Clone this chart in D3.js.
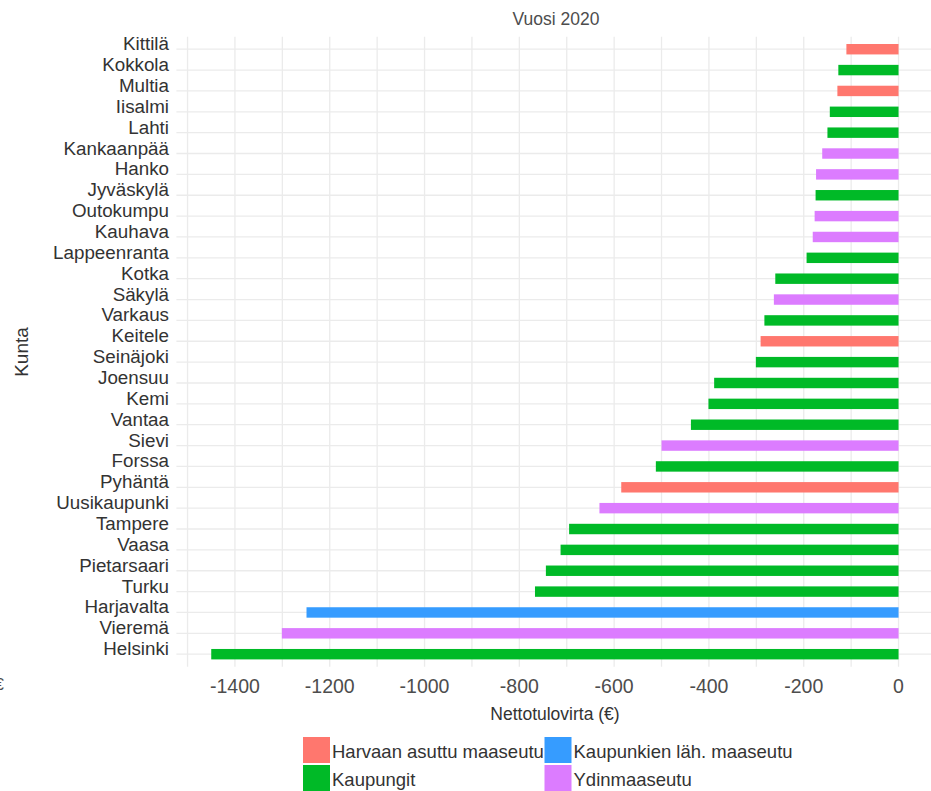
<!DOCTYPE html>
<html>
<head>
<meta charset="utf-8">
<script src="https://cdn.jsdelivr.net/npm/d3@7"></script>
<style>
  body { margin: 0; background: #fff; }
  text { font-family: "Liberation Sans", Arial, sans-serif; }
</style>
</head>
<body>
<div id="chart"></div>
<script>
// Kunnat ylhäältä alas
var kunnat = ["Kittilä", "Kokkola", "Multia", "Iisalmi", "Lahti", "Kankaanpää", "Hanko",
    "Jyväskylä", "Outokumpu", "Kauhava", "Lappeenranta", "Kotka", "Säkylä", "Varkaus",
    "Keitele", "Seinäjoki", "Joensuu", "Kemi", "Vantaa", "Sievi", "Forssa", "Pyhäntä",
    "Uusikaupunki", "Tampere", "Vaasa", "Pietarsaari", "Turku", "Harjavalta", "Vieremä", "Helsinki"];

// Nettotulovirta (€)
var arvot = [-110, -127, -129, -145, -150, -161, -174,
    -175, -177, -181, -194, -260, -263, -283,
    -291, -301, -389, -401, -438, -500, -512, -585,
    -631, -695, -713, -744, -767, -1249, -1301, -1450];

var ryhmat = ["Harvaan asuttu maaseutu", "Kaupungit", "Harvaan asuttu maaseutu", "Kaupungit",
    "Kaupungit", "Ydinmaaseutu", "Ydinmaaseutu", "Kaupungit", "Ydinmaaseutu", "Ydinmaaseutu",
    "Kaupungit", "Kaupungit", "Ydinmaaseutu", "Kaupungit", "Harvaan asuttu maaseutu",
    "Kaupungit", "Kaupungit", "Kaupungit", "Kaupungit", "Ydinmaaseutu", "Kaupungit",
    "Harvaan asuttu maaseutu", "Ydinmaaseutu", "Kaupungit", "Kaupungit", "Kaupungit",
    "Kaupungit", "Kaupunkien läh. maaseutu", "Ydinmaaseutu", "Kaupungit"];

var ryhmaNimet = ["Harvaan asuttu maaseutu", "Kaupunkien läh. maaseutu", "Kaupungit", "Ydinmaaseutu"];

var majorTicks = [-1400, -1200, -1000, -800, -600, -400, -200, 0];
var minorTicks = [-1500, -1300, -1100, -900, -700, -500, -300, -100];

var data = kunnat.map(function(k, i) {
    return {kunta: k, arvo: arvot[i], ryhma: ryhmat[i]};
});

var width = 931, height = 791;

var svg = d3.select("#chart").append("svg")
    .attr("width", width)
    .attr("height", height);

svg.append("rect").attr("width", width).attr("height", height).attr("fill", "#fff");

// Scales
var x = d3.scaleLinear()
    .domain([-1523.5, 72.5])
    .range([176.4, 932.9]);

var y = d3.scalePoint()
    .domain(kunnat)
    .range([36.7, 666.7])
    .padding(0.6);

var color = d3.scaleOrdinal()
    .domain(ryhmaNimet)
    .range(["#FF776E", "#369CFF", "#00BA27", "#DC7CFF"]);

var barH = y.step() * 0.5;

// Grid
var grid = svg.append("g");
grid.selectAll(".vgrid")
    .data(minorTicks.concat(majorTicks))
    .enter().append("line")
    .attr("x1", function(d) { return x(d); })
    .attr("x2", function(d) { return x(d); })
    .attr("y1", 36.7)
    .attr("y2", 666.7)
    .attr("stroke", "#EBEBEB")
    .attr("stroke-width", 1.3);

grid.selectAll(".hgrid")
    .data(kunnat)
    .enter().append("line")
    .attr("x1", 176.4)
    .attr("x2", width)
    .attr("y1", function(d) { return y(d); })
    .attr("y2", function(d) { return y(d); })
    .attr("stroke", "#EBEBEB")
    .attr("stroke-width", 1.3);

// Bars
svg.selectAll(".bar")
    .data(data)
    .enter().append("rect")
    .attr("class", "bar")
    .attr("x", function(d) { return x(d.arvo); })
    .attr("y", function(d) { return y(d.kunta) - barH / 2; })
    .attr("width", function(d) { return x(0) - x(d.arvo); })
    .attr("height", barH)
    .attr("fill", function(d) { return color(d.ryhma); });

// Y labels
svg.selectAll(".ylab")
    .data(kunnat)
    .enter().append("text")
    .attr("x", 169)
    .attr("y", function(d) { return y(d) + 1; })
    .attr("text-anchor", "end")
    .style("font-size", "18.8px")
    .attr("fill", "#333")
    .text(function(d) { return d; });

// X tick labels
svg.selectAll(".xlab")
    .data(majorTicks)
    .enter().append("text")
    .attr("x", function(d) { return x(d); })
    .attr("y", 692.5)
    .attr("text-anchor", "middle")
    .style("font-size", "19.5px")
    .attr("fill", "#4D4D4D")
    .text(function(d) { return d; });

// Titles
svg.append("text")
    .attr("x", 556).attr("y", 25)
    .attr("text-anchor", "middle")
    .style("font-size", "17.5px")
    .attr("fill", "#4D4D4D")
    .text("Vuosi 2020");

svg.append("text")
    .attr("x", 555).attr("y", 720)
    .attr("text-anchor", "middle")
    .style("font-size", "17.5px")
    .attr("fill", "#333")
    .text("Nettotulovirta (€)");

svg.append("text")
    .attr("transform", "translate(28,352) rotate(-90)")
    .attr("text-anchor", "middle")
    .style("font-size", "19px")
    .attr("fill", "#333")
    .text("Kunta");

// clipped leftover symbol at the left edge
svg.append("text")
    .attr("x", 4).attr("y", 690)
    .attr("text-anchor", "end")
    .style("font-size", "17px")
    .attr("fill", "#4D4D4D")
    .text("€");

// Legend (2 columns)
var legend = svg.append("g");
var legX = [303, 544.5], legY = [737, 765];
var legItems = legend.selectAll(".leg")
    .data(ryhmaNimet)
    .enter().append("g")
    .attr("transform", function(d, i) {
        return "translate(" + legX[i % 2] + "," + legY[Math.floor(i / 2)] + ")";
    });

legItems.append("rect")
    .attr("width", 27)
    .attr("height", 26)
    .attr("fill", function(d) { return color(d); });

legItems.append("text")
    .attr("x", 29)
    .attr("y", 21)
    .style("font-size", "18.5px")
    .attr("fill", "#333")
    .text(function(d) { return d; });
</script>
</body>
</html>
